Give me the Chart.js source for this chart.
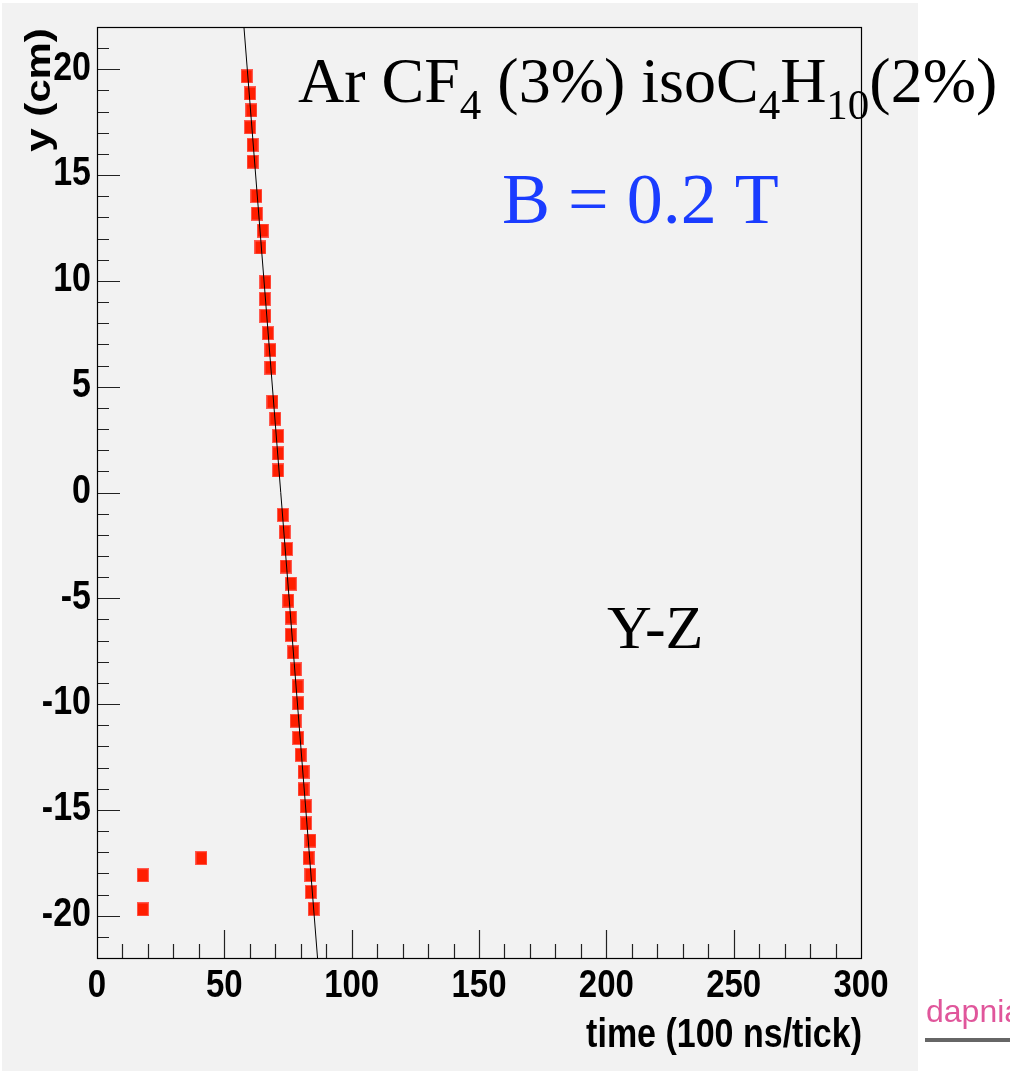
<!DOCTYPE html>
<html>
<head>
<meta charset="UTF-8">
<title>Y-Z track</title>
<style>
    body {
        margin: 0;
        background: #ffffff;
    }
    #chartContainer {
        width: 1010px;
        height: 1071px;
    }
</style>
<script src="https://cdn.jsdelivr.net/npm/chart.js"></script>
</head>
<body>

<div id="chartContainer">
    <canvas id="trackChart" width="1010" height="1071"></canvas>
</div>

<script>
// hits: drift time (100 ns ticks) vs y (cm)
let hitTime = [58.8, 60.1, 60.6, 60.1, 61.1, 61.1, 62.6, 62.8, 65.1, 64.2,
    66.1, 65.9, 66.1, 67.1, 68.1, 68.1, 68.9, 70.0, 71.1, 71.1,
    71.1, 73.0, 73.7, 74.6, 74.1, 76.1, 75.1, 76.1, 76.1, 77.0,
    78.0, 78.8, 79.0, 78.0, 79.0, 80.0, 81.1, 81.1, 82.0, 82.1,
    83.8, 83.1, 83.8, 84.0, 85.1, 18.0, 18.0, 41.0];
let hitY = [19.67, 18.86, 18.06, 17.26, 16.43, 15.63, 14.01, 13.18, 12.38, 11.58,
    9.94, 9.15, 8.34, 7.53, 6.73, 5.90, 4.29, 3.49, 2.67, 1.85,
    1.04, -1.06, -1.87, -2.67, -3.50, -4.31, -5.11, -5.91, -6.73, -7.55,
    -8.36, -9.16, -9.96, -10.79, -11.60, -12.40, -13.20, -14.03, -14.83, -15.64,
    -16.45, -17.27, -18.08, -18.88, -19.68, -18.09, -19.70, -17.28];

// straight line fit, end points at the frame edges
let fitTime = [57.7, 86.6];
let fitY = [22, -22];

let xTicks = [0, 50, 100, 150, 200, 250, 300];
let yTicks = [-20, -15, -10, -5, 0, 5, 10, 15, 20];

// red hit marker, a bit taller than wide
const marker = document.createElement('canvas');
marker.width = 12;
marker.height = 14;
const mctx = marker.getContext('2d');
mctx.fillStyle = 'rgba(255, 90, 80, 1)';
mctx.fillRect(0, 0, 12, 14);
mctx.fillStyle = '#ff1e00';
mctx.fillRect(1, 1, 10, 12);

const SANS = '"Liberation Sans", Arial, sans-serif';
const SERIF = '"Liberation Serif", "Times New Roman", serif';
const STRETCH = 1.2;

function stretchedText(ctx, text, x, y, align, size) {
    ctx.save();
    ctx.font = 'bold ' + size + 'px ' + SANS;
    ctx.textAlign = align;
    ctx.textBaseline = 'middle';
    ctx.translate(x, y);
    ctx.scale(1, STRETCH);
    ctx.fillText(text, 0, 0);
    ctx.restore();
}

function serifRun(ctx, parts, x, y, size, subSize, subDrop) {
    // parts: [text, isSub]
    ctx.textAlign = 'left';
    ctx.textBaseline = 'alphabetic';
    parts.forEach(p => {
        ctx.font = (p[1] ? subSize : size) + 'px ' + SERIF;
        ctx.fillText(p[0], x, p[1] ? y + subDrop : y);
        x += ctx.measureText(p[0]).width;
    });
}

const rootFrame = {
    id: 'rootFrame',
    beforeDraw(chart) {
        const ctx = chart.ctx;
        ctx.save();
        ctx.fillStyle = '#ffffff';
        ctx.fillRect(0, 0, chart.width, chart.height);
        ctx.fillStyle = '#f2f2f2';
        ctx.fillRect(2, 3, 916, 1068);
        ctx.restore();
    },
    afterDraw(chart) {
        const ctx = chart.ctx;
        const a = chart.chartArea;
        const xs = chart.scales.x;
        const ys = chart.scales.y;
        ctx.save();

        // ticks inside the frame
        ctx.strokeStyle = '#222';
        ctx.lineWidth = 1.2;
        ctx.beginPath();
        for (let v = 10; v < 300; v += 10) {
            const px = Math.round(xs.getPixelForValue(v)) + 0.5;
            const len = v % 50 === 0 ? 28 : 14;
            ctx.moveTo(px, a.bottom);
            ctx.lineTo(px, a.bottom - len);
        }
        for (let v = -21; v <= 21; v += 1) {
            const py = Math.round(ys.getPixelForValue(v)) + 0.5;
            const len = v % 5 === 0 ? 23 : 12;
            ctx.moveTo(a.left, py);
            ctx.lineTo(a.left + len, py);
        }
        ctx.stroke();

        // frame
        ctx.strokeStyle = '#000';
        ctx.lineWidth = 1.2;
        ctx.strokeRect(Math.round(a.left) + 0.5, Math.round(a.top) + 0.5,
            Math.round(a.right - a.left), Math.round(a.bottom - a.top));

        // tick labels
        ctx.fillStyle = '#000';
        xTicks.forEach(v => {
            stretchedText(ctx, String(v), xs.getPixelForValue(v), a.bottom + 28, 'center', 33);
        });
        yTicks.forEach(v => {
            stretchedText(ctx, String(v), a.left - 6, ys.getPixelForValue(v) - 1, 'right', 34);
        });

        // axis titles
        ctx.save();
        ctx.font = 'bold 34px ' + SANS;
        ctx.textAlign = 'right';
        ctx.textBaseline = 'alphabetic';
        ctx.translate(a.right + 1, 1047);
        ctx.scale(1, STRETCH);
        ctx.fillText('time (100 ns/tick)', 0, 0);
        ctx.restore();

        ctx.save();
        ctx.font = 'bold 35px ' + SANS;
        ctx.textAlign = 'center';
        ctx.textBaseline = 'alphabetic';
        ctx.translate(50, 90);
        ctx.scale(1, STRETCH);
        ctx.rotate(-Math.PI / 2);
        ctx.fillText('y (cm)', 0, 0);
        ctx.restore();

        // annotations
        ctx.fillStyle = '#000';
        serifRun(ctx, [['Ar CF', false], ['4', true], [' (3%) isoC', false], ['4', true],
            ['H', false], ['10', true], ['(2%)', false]], 298, 102, 64, 43, 17);
        ctx.fillStyle = '#1a3cff';
        serifRun(ctx, [['B = 0.2 T', false]], 502, 223, 72, 0, 0);
        ctx.fillStyle = '#000';
        serifRun(ctx, [['Y-Z', false]], 607, 648, 62, 0, 0);

        // lab logo in the corner
        ctx.fillStyle = '#e0569b';
        ctx.font = '32px ' + SANS;
        ctx.textAlign = 'left';
        ctx.textBaseline = 'alphabetic';
        ctx.fillText('dapnia', 926, 1022);
        ctx.fillStyle = '#666';
        ctx.fillRect(925, 1038, 90, 4);

        ctx.restore();
    }
};

document.addEventListener('DOMContentLoaded', function () {
    const ctx = document.getElementById('trackChart').getContext('2d');

    const hits = hitTime.map((t, i) => ({x: t, y: hitY[i]}));
    const fit = fitTime.map((t, i) => ({x: t, y: fitY[i]}));

    const trackChart = new Chart(ctx, {
        type: 'scatter',
        data: {
            datasets: [{
                label: 'fit',
                data: fit,
                showLine: true,
                borderColor: '#000',
                borderWidth: 1,
                pointRadius: 0
            }, {
                label: 'hits',
                data: hits,
                pointStyle: marker,
                pointRadius: 6
            }]
        },
        options: {
            responsive: false,
            animation: false,
            layout: {
                padding: {left: 97, top: 27, right: 149, bottom: 113}
            },
            plugins: {
                legend: {display: false},
                tooltip: {enabled: false}
            },
            scales: {
                x: {type: 'linear', min: 0, max: 300, display: false},
                y: {type: 'linear', min: -22, max: 22, display: false}
            }
        },
        plugins: [rootFrame]
    });
});
</script>

</body>
</html>
